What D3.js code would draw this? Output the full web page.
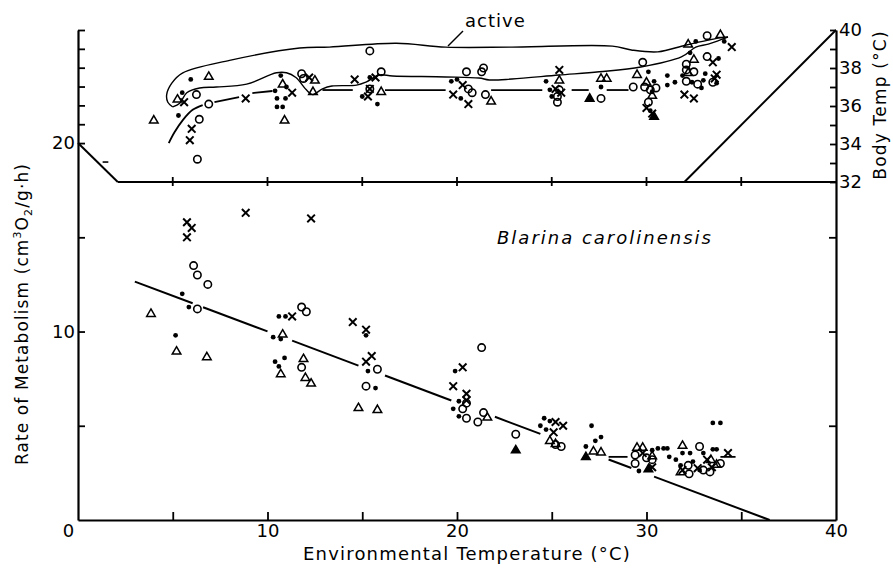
<!DOCTYPE html>
<html>
<head>
<meta charset="utf-8">
<script src="https://cdn.jsdelivr.net/npm/d3@7"></script>
<style>
  body { margin: 0; background: #fff; }
  text { font-family: "DejaVu Sans", sans-serif; fill: #000; }
</style>
</head>
<body>
<div id="viz"></div>
<script>
// ---- data: [environmental temp, value] ----
// top panel: body temperature (right axis)
var topDots = [[5.95,37.4],[5.5,36.7],[5.3,35.5],[10.7,37.6],[11.0,37.0],[10.4,36.8],[10.95,36.4],[10.5,36.4],
  [10.5,35.95],[10.8,35.95],[15.4,37.5],[15.0,36.5],[15.8,36.1],[19.7,37.3],[20.0,37.4],[20.2,36.4],
  [24.7,37.3],[24.9,36.85],[25.0,36.5],[27.6,37.0],[30.1,37.8],[30.4,37.3],[30.3,36.75],[30.2,35.75],
  [31.1,37.6],[31.1,37.1],[31.5,37.25],[32.3,38.8],[32.6,39.4],[34.1,39.4],[33.8,38.5],[31.9,37.6],
  [32.4,37.25],[32.9,36.95],[33.1,37.7],[33.0,37.35],[33.7,37.2]];
var topCircles = [[6.25,36.6],[6.9,36.1],[6.4,35.3],[6.3,33.2],[11.8,37.7],[11.9,37.45],[15.4,38.9],[16.0,37.8],
  [15.4,36.9],[20.5,37.8],[21.3,37.8],[21.4,38.0],[20.6,36.9],[20.8,36.7],[21.5,36.6],[25.4,36.85],
  [25.3,36.5],[25.3,36.2],[27.6,36.4],[29.8,38.3],[29.3,37.0],[29.9,37.0],[30.2,36.85],[30.5,36.95],
  [30.1,36.2],[32.1,38.2],[33.2,39.7],[33.2,38.6],[32.1,37.9],[32.5,37.8],[32.1,37.3],[32.7,37.15],[33.5,37.25]];
var topCrosses = [[5.6,36.2],[6.0,34.8],[5.9,34.2],[8.85,36.4],[11.3,36.7],[12.2,37.5],[14.6,37.4],[15.7,37.5],
  [15.3,36.5],[15.4,36.9],[20.3,37.1],[19.8,36.6],[20.6,36.1],[25.4,37.9],[25.2,36.9],[25.5,36.7],
  [30.0,35.9],[30.3,35.6],[32.0,36.6],[32.5,36.4],[34.5,39.1],[33.5,38.3],[33.6,37.45],[33.7,37.65]];
var topTriangles = [[4.0,35.3],[5.25,36.4],[6.9,37.6],[10.8,37.2],[10.9,35.3],[12.5,37.4],[12.4,36.8],[16.0,36.8],
  [21.8,36.3],[25.4,37.4],[27.6,37.5],[27.9,37.5],[29.5,37.7],[30.0,37.3],[30.3,36.6],[32.5,38.5],
  [32.2,39.3],[33.9,39.8],[32.2,37.8]];
var topFilledTri = [[27.0,36.45],[30.4,35.5]];

// bottom panel: rate of metabolism (left axis)
var botDots = [[5.5,12.0],[5.85,11.3],[5.15,9.8],[10.6,10.8],[10.95,10.8],[10.3,9.7],[10.7,9.6],[10.4,8.4],
  [10.9,8.6],[10.6,8.15],[15.2,9.8],[15.3,7.9],[15.7,7.0],[19.9,7.9],[20.1,6.3],[19.8,5.9],[20.1,5.5],
  [24.6,5.4],[24.9,5.25],[24.4,5.0],[24.7,4.8],[27.1,5.0],[26.8,3.9],[27.3,4.2],[27.6,4.4],[29.6,2.6],
  [30.3,3.7],[30.6,3.8],[30.9,3.8],[31.1,3.8],[31.9,3.55],[31.2,3.35],[31.55,3.2],[31.8,2.9],[32.3,3.55],
  [32.45,3.1],[33.0,3.55],[33.5,3.75],[33.7,3.75],[33.5,5.15],[33.9,5.15],[32.8,2.65]];
var botCircles = [[6.1,13.5],[6.3,13.0],[6.85,12.5],[6.3,11.2],[11.8,11.3],[12.05,11.05],[11.8,8.1],[15.8,8.0],
  [15.2,7.1],[21.3,9.15],[20.5,6.2],[20.3,5.9],[20.5,5.4],[21.1,5.2],[21.4,5.7],[23.1,4.55],[25.5,3.9],
  [25.2,4.0],[29.4,3.45],[29.4,3.0],[30.0,3.3],[30.3,3.2],[32.2,2.9],[32.25,2.45],[32.8,3.9],[33.0,2.65],
  [33.35,2.55],[33.9,3.0]];
var botCrosses = [[5.75,15.8],[6.0,15.5],[5.75,15.0],[8.85,16.3],[12.3,16.0],[11.3,10.8],[14.5,10.5],[15.2,10.1],
  [15.2,8.4],[15.5,8.7],[20.3,8.1],[19.8,7.1],[20.5,6.7],[20.5,6.35],[25.2,5.2],[25.6,5.0],[25.1,4.65],
  [29.8,3.55],[30.3,2.8],[31.9,2.65],[32.7,2.75],[33.45,2.8],[33.2,3.2],[34.3,3.55]];
var botTriangles = [[3.85,11.0],[5.2,9.0],[6.8,8.7],[10.8,9.9],[10.7,7.8],[11.9,8.6],[12.0,7.6],[12.3,7.3],
  [14.8,6.0],[15.8,5.9],[21.6,5.5],[24.9,4.25],[25.2,4.1],[27.2,3.7],[27.6,3.65],[29.5,3.9],[29.8,3.9],
  [30.3,3.45],[31.9,4.0],[31.8,2.6],[33.7,3.0],[33.4,3.25]];
var botFilledTri = [[23.1,3.76],[26.8,3.4],[30.1,2.75]];

// regression line (rate vs env temp) end points, and the pieces that are drawn
var regLine = [[3.0,12.65],[36.5,0]];
var regPieces = [[3.0,6.05],[6.6,10.0],[11.3,14.8],[16.2,19.7],[22.0,24.4],[28.0,29.2],[30.4,36.5]];
var minRatePieces = [[[28.0,3.35],[29.0,3.35]],[[33.9,3.35],[34.7,3.35]]];

// body temp curves
var activeOuter = [[5.0,35.95],[4.74,36.2],[4.68,36.6],[4.95,37.2],[5.53,37.74],[8.0,38.4],[11.7,39.05],
  [13.26,39.1],[16.8,39.3],[19.4,39.1],[22.9,39.1],[28.2,39.15],[29.2,38.95],[30.6,38.85],[32.05,39.2],
  [33.26,39.47],[33.95,39.6],[34.3,39.63]];
var activeInner = [[5.0,35.95],[5.37,36.15],[5.74,36.7],[6.42,36.95],[7.3,37.0],[8.9,37.15],[10.47,37.75],
  [11.0,37.75],[11.5,37.5],[12.05,36.85],[12.37,36.6],[12.9,36.9],[13.4,37.05],[14.7,37.1],[15.2,37.26],
  [15.9,37.63],[16.6,37.58],[19.4,37.53],[21.16,37.47],[21.7,37.37],[22.9,37.42],[25.37,37.63],[27.5,37.8],
  [29.7,38.05],[31.84,38.58],[32.6,39.1],[33.26,39.26],[34.16,39.58],[34.3,39.63]];
var restPieces = [
  [[4.79,34.05],[5.1,34.63],[5.53,35.26],[6.05,35.8],[6.58,36.05]],
  [[7.2,36.2],[8.5,36.47]],
  [[9.2,36.68],[10.26,36.79]],
  [[12.9,36.84],[14.5,36.84]],
  [[16.2,36.84],[19.4,36.84]],
  [[21.8,36.84],[24.5,36.84]],
  [[26.05,36.84],[26.95,36.84]],
  [[27.9,36.84],[29.05,36.84]]];
var tbBase = [[2.1,32],[40,32]];
var tbLeft = [[0,34.05],[2.1,32]];
var tbEqualsTa = [[32,32],[40,40]];

var xTicks = [0,5,10,15,20,25,30,35,40];
var xLabels = [0,10,20,30,40];
var rateTicks = [5,10,15,20,21,22,23,24,25,26];
var rateLabels = [10,20];
var tbTicks = [32,33,34,35,36,37,38,39,40];
var tbLabels = [32,34,36,38,40];

var W = 893, H = 570;
var svg = d3.select("#viz").append("svg").attr("width", W).attr("height", H);

var x = d3.scaleLinear().domain([0,40]).range([78,836]);
var yRate = d3.scaleLinear().domain([0,26]).range([520,30]);
var yTb = d3.scaleLinear().domain([32,40]).range([182,30]);

var lineTb = d3.line().x(function(d){ return x(d[0]); }).y(function(d){ return yTb(d[1]); });
var lineRate = d3.line().x(function(d){ return x(d[0]); }).y(function(d){ return yRate(d[1]); });
var smoothTb = d3.line().curve(d3.curveCatmullRom.alpha(0.5))
  .x(function(d){ return x(d[0]); }).y(function(d){ return yTb(d[1]); });

// axes
var fontSize = 18;
function styleAxis(g) {
  g.select(".domain").attr("stroke", "#000").attr("stroke-width", 2.2);
  g.selectAll(".tick line").attr("stroke", "#000").attr("stroke-width", 1.8);
  g.selectAll(".tick text").attr("font-size", fontSize).attr("font-family", "DejaVu Sans").attr("fill", "#000");
}

var xAxis = svg.append("g").attr("transform", "translate(0," + yRate(0) + ")")
  .call(d3.axisBottom(x).tickValues(xTicks).tickSizeInner(-8).tickSizeOuter(0).tickPadding(4)
    .tickFormat(function(d){ return xLabels.indexOf(d) >= 0 ? d : ""; }))
  .call(styleAxis);
xAxis.selectAll(".tick text").attr("dx", function(d){ return d === 0 ? -10 : 0; });
xAxis.selectAll(".tick").filter(function(d){ return d === 0 || d === 40; }).select("line").remove();

var leftAxis = svg.append("g").attr("transform", "translate(" + x(0) + ",0)")
  .call(d3.axisLeft(yRate).tickValues(rateTicks).tickSizeInner(-7).tickSizeOuter(0).tickPadding(3)
    .tickFormat(function(d){ return rateLabels.indexOf(d) >= 0 ? d : ""; }))
  .call(styleAxis);

var rightRate = svg.append("g").attr("transform", "translate(" + x(40) + ",0)")
  .call(d3.axisRight(yRate).tickValues([5,10,15]).tickSizeInner(-7).tickSizeOuter(0).tickFormat(""))
  .call(styleAxis);

var rightTb = svg.append("g").attr("transform", "translate(" + x(40) + ",0)")
  .call(d3.axisRight(yTb).tickValues(tbTicks).tickSizeInner(-6).tickSizeOuter(0).tickPadding(3)
    .tickFormat(function(d){ return tbLabels.indexOf(d) >= 0 ? d : ""; }))
  .call(styleAxis);
rightTb.select(".domain").remove();

// top panel frame lines
svg.append("path").attr("d", lineTb(tbBase)).attr("fill", "none").attr("stroke", "#000").attr("stroke-width", 2.2);
svg.append("path").attr("d", lineTb(tbLeft)).attr("fill", "none").attr("stroke", "#000").attr("stroke-width", 2);
svg.append("path").attr("d", lineTb(tbEqualsTa)).attr("fill", "none").attr("stroke", "#000").attr("stroke-width", 2);
svg.selectAll(".btick").data(xTicks.filter(function(d){ return d > 0 && d < 40; }))
  .enter().append("line")
  .attr("x1", function(d){ return x(d); }).attr("x2", function(d){ return x(d); })
  .attr("y1", yTb(32) - 5).attr("y2", yTb(32) + 4)
  .attr("stroke", "#000").attr("stroke-width", 1.8);
svg.append("line").attr("x1", x(1.3)).attr("x2", x(1.6)).attr("y1", yTb(33.05)).attr("y2", yTb(33.05))
  .attr("stroke", "#000").attr("stroke-width", 1.6);

// curves
svg.append("path").attr("d", smoothTb(activeOuter)).attr("fill", "none").attr("stroke", "#000").attr("stroke-width", 1.4);
svg.append("path").attr("d", smoothTb(activeInner)).attr("fill", "none").attr("stroke", "#000").attr("stroke-width", 1.4);
svg.selectAll(".rest").data(restPieces).enter().append("path")
  .attr("d", function(d){ return smoothTb(d); })
  .attr("fill", "none").attr("stroke", "#000").attr("stroke-width", 1.8);

var regSlope = (regLine[1][1] - regLine[0][1]) / (regLine[1][0] - regLine[0][0]);
function regAt(t) { return regLine[0][1] + regSlope * (t - regLine[0][0]); }
svg.selectAll(".reg").data(regPieces).enter().append("path")
  .attr("d", function(d){ return lineRate([[d[0], regAt(d[0])], [d[1], regAt(d[1])]]); })
  .attr("fill", "none").attr("stroke", "#000").attr("stroke-width", 2);
svg.selectAll(".minr").data(minRatePieces).enter().append("path")
  .attr("d", function(d){ return lineRate(d); })
  .attr("fill", "none").attr("stroke", "#000").attr("stroke-width", 1.8);

// symbols
function drawSet(data, y, kind) {
  var g = svg.append("g");
  data.forEach(function(d) {
    var cx = x(d[0]), cy = y(d[1]);
    if (kind === "dot") {
      g.append("circle").attr("cx", cx).attr("cy", cy).attr("r", 2.4).attr("fill", "#000");
    } else if (kind === "circle") {
      g.append("circle").attr("cx", cx).attr("cy", cy).attr("r", 3.7)
        .attr("fill", "none").attr("stroke", "#000").attr("stroke-width", 1.6);
    } else if (kind === "cross") {
      var s = 3.8;
      g.append("path").attr("d", "M" + (cx - s) + "," + (cy - s) + "L" + (cx + s) + "," + (cy + s) +
        "M" + (cx + s) + "," + (cy - s) + "L" + (cx - s) + "," + (cy + s))
        .attr("stroke", "#000").attr("stroke-width", 2).attr("fill", "none");
    } else {
      var h = 3.7;
      g.append("path").attr("d", "M" + cx + "," + (cy - h) + "L" + (cx + 4.3) + "," + (cy + h) +
        "L" + (cx - 4.3) + "," + (cy + h) + "Z")
        .attr("fill", kind === "ftri" ? "#000" : "none")
        .attr("stroke", "#000").attr("stroke-width", 1.5).attr("stroke-linejoin", "miter");
    }
  });
}
drawSet(topCircles, yTb, "circle");
drawSet(topTriangles, yTb, "tri");
drawSet(topFilledTri, yTb, "ftri");
drawSet(topCrosses, yTb, "cross");
drawSet(topDots, yTb, "dot");
drawSet(botCircles, yRate, "circle");
drawSet(botTriangles, yRate, "tri");
drawSet(botFilledTri, yRate, "ftri");
drawSet(botCrosses, yRate, "cross");
drawSet(botDots, yRate, "dot");

// labels
svg.append("text").attr("x", 465).attr("y", 27).attr("font-size", 18).attr("letter-spacing", 1).text("active");
svg.append("line").attr("x1", 463).attr("y1", 31).attr("x2", 448).attr("y2", 46)
  .attr("stroke", "#000").attr("stroke-width", 1.5);

svg.append("text").attr("x", 497).attr("y", 244).attr("font-size", 18).attr("font-style", "italic")
  .attr("letter-spacing", 2).text("Blarina carolinensis");

svg.append("text").attr("x", 467).attr("y", 560).attr("text-anchor", "middle").attr("font-size", 18)
  .attr("letter-spacing", 1.2).text("Environmental Temperature (°C)");

var rt = svg.append("text").attr("transform", "translate(28,314) rotate(-90)")
  .attr("text-anchor", "middle").attr("font-size", 17).attr("letter-spacing", 1.1);
rt.append("tspan").text("Rate of Metabolism (cm");
rt.append("tspan").attr("font-size", 11).attr("dy", -7).text("3");
rt.append("tspan").attr("dy", 7).text("O");
rt.append("tspan").attr("font-size", 11).attr("dy", 4).text("2");
rt.append("tspan").attr("dy", -4).text("/g·h)");

svg.append("text").attr("transform", "translate(886,105) rotate(-90)")
  .attr("text-anchor", "middle").attr("font-size", 17).attr("letter-spacing", 1.2).text("Body Temp (°C)");
</script>
</body>
</html>
